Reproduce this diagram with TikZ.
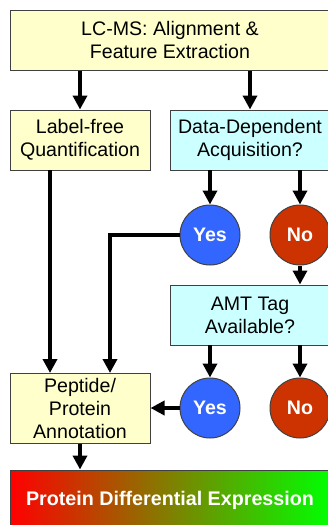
\documentclass[tikz,border=0pt]{standalone}
\usepackage{fontspec}
\setmainfont{Liberation Sans}
\usetikzlibrary{arrows.meta}
\definecolor{boxyellow}{HTML}{FFFFCC}
\definecolor{boxcyan}{HTML}{CCFFFF}
\definecolor{yesblue}{HTML}{3366FF}
\definecolor{nored}{HTML}{CC3300}
\definecolor{edgegray}{HTML}{404040}
\begin{document}
\begin{tikzpicture}[x=1pt,y=-1pt,
  every node/.style={font=\fontsize{19.6}{23}\selectfont},
  ybox/.style={draw=edgegray,line width=1pt,fill=boxyellow,align=center,inner sep=0pt},
  cbox/.style={draw=edgegray,line width=1pt,fill=boxcyan,align=center,inner sep=0pt},
  yescirc/.style={circle,draw=edgegray,line width=1pt,fill=yesblue,text=white,minimum size=60pt,inner sep=0pt,font=\fontsize{19.6}{23}\selectfont\bfseries},
  nocirc/.style={circle,draw=edgegray,line width=1pt,fill=nored,text=white,minimum size=60pt,inner sep=0pt,font=\fontsize{19.6}{23}\selectfont\bfseries},
  arr/.style={line width=4pt,-{Triangle[length=14pt,width=14pt]}},
  plainline/.style={line width=4pt}]
\useasboundingbox (0,0) rectangle (328,525);
\fill[white] (0,0) rectangle (328,525);
% top box
\node[ybox,minimum width=320pt,minimum height=60pt] (top) at (170,40) {LC-MS: Alignment \&\\Feature Extraction};
\node[ybox,minimum width=140pt,minimum height=60pt] (lfq) at (80,140) {Label-free\\Quantification};
\node[cbox,minimum width=160pt,minimum height=60pt] (dda) at (250,140) {Data-Dependent\\Acquisition?};
\node[yescirc] (yes1) at (210,235) {Yes};
\node[nocirc] (no1) at (300,235) {No};
\node[cbox,minimum width=160pt,minimum height=60pt] (amt) at (250,315) {AMT Tag\\Available?};
\node[ybox,minimum width=140pt,minimum height=70pt] (pep) at (80,408) {Peptide/\\Protein\\Annotation};
\node[yescirc] (yes2) at (210,408) {Yes};
\node[nocirc] (no2) at (300,408) {No};
\node[draw=edgegray,line width=1pt,left color=red,right color=green,minimum width=320pt,minimum height=60pt,inner sep=0pt,text=white,font=\fontsize{19.7}{23}\selectfont\bfseries] (pde) at (170,500) {Protein Differential Expression};
% connectors
\draw[arr] (top.south -| lfq.north) -- (lfq.north);
\draw[arr] (top.south -| dda.north) -- (dda.north);
\coordinate (ddayes) at (210,170);
\coordinate (ddano) at (300,170);
\draw[arr] (ddayes) -- (yes1.north);
\draw[arr] (ddano) -- (no1.north);
\draw[arr] (no1.south) -- (no1.south |- amt.north);
\coordinate (amtyes) at (210,345);
\coordinate (amtno) at (300,345);
\draw[arr] (amtyes) -- (yes2.north);
\draw[arr] (amtno) -- (no2.north);
\coordinate (pepl) at (50,373);
\coordinate (pepr) at (110,373);
\draw[arr] (50,170) -- (pepl);
\draw[arr] (yes1.west) -- (110,235) -- (pepr);
\draw[arr] (yes2.west) -- (pep.east);
\draw[arr] (pep.south) -- (pep.south |- pde.north);
\end{tikzpicture}
\end{document}
